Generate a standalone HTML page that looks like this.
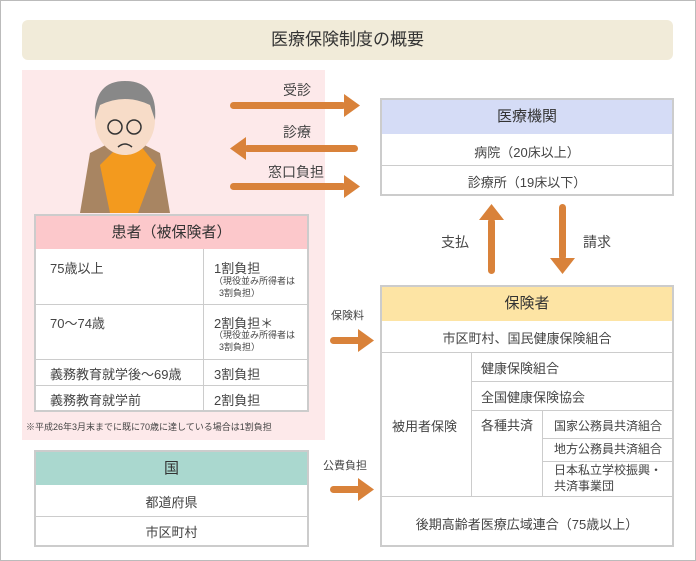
<html><head><style>
body{margin:0;width:696px;height:561px;position:relative;background:#fff;font-family:"Liberation Sans","Noto Sans CJK JP",sans-serif;color:#444;overflow:hidden}
.a{position:absolute;box-sizing:border-box}
.t{position:absolute;font-size:13px;white-space:nowrap}
.c{text-align:center}
.b{border:2px solid #ccc;background:#fff}
.l{position:absolute;background:#ccc}
</style></head><body>
<div class="a" style="left:0;top:0;width:696px;height:561px;border:1px solid #bbb"></div>
<div class="a" style="left:22px;top:20px;width:651px;height:40px;background:#f1ebd9;border-radius:6px;text-align:center;line-height:40px;font-size:17px;color:#333">医療保険制度の概要</div>
<div class="a" style="left:22px;top:70px;width:303px;height:370px;background:#fde9ea"></div>
<!-- person -->
<svg class="a" style="left:70px;top:75px" width="110" height="140">
<path d="M10 138 L20 78 L55 60 L90 78 L100 138 Z" fill="#a88562"/>
<path d="M30 90 L50 70 L70 70 L86 90 L68 138 L40 138 Z" fill="#f39a1e"/>
<ellipse cx="55" cy="45" rx="30" ry="35" fill="#f7dcc8"/>
<path d="M25 45 Q23 6 55 6 Q88 6 85 45 L80 30 Q55 18 30 30 Z" fill="#888"/>
<circle cx="45" cy="52" r="7" fill="none" stroke="#333" stroke-width="1.5"/><circle cx="64" cy="52" r="7" fill="none" stroke="#333" stroke-width="1.5"/>
<path d="M48 72 Q55 66 62 72" stroke="#333" fill="none" stroke-width="1.5"/>
</svg>
<!-- patient table -->
<div class="a b" style="left:34px;top:214px;width:275px;height:198px">
<div class="a" style="left:0;top:0;width:271px;height:33px;background:#fcc8cb;text-align:center;line-height:33px;font-size:15px;color:#333">患者（被保険者）</div>
<div class="l" style="left:0;right:0;top:88px;height:1px"></div>
<div class="l" style="left:0;right:0;top:143px;height:1px"></div>
<div class="l" style="left:0;right:0;top:169px;height:1px"></div>
<div class="l" style="left:167px;top:33px;width:1px;height:163px"></div>
<div class="t" style="left:14px;top:42px">75歳以上</div>
<div class="t" style="left:14px;top:97px">70～74歳</div>
<div class="t" style="left:14px;top:148px">義務教育就学後～69歳</div>
<div class="t" style="left:14px;top:174px">義務教育就学前</div>
<div class="t" style="left:178px;top:42px">1割負担</div>
<div class="t" style="left:178px;top:59px;font-size:9px;line-height:12px">（現役並み所得者は<br>&nbsp;&nbsp;3割負担）</div>
<div class="t" style="left:178px;top:97px">2割負担＊</div>
<div class="t" style="left:178px;top:113px;font-size:9px;line-height:12px">（現役並み所得者は<br>&nbsp;&nbsp;3割負担）</div>
<div class="t" style="left:178px;top:148px">3割負担</div>
<div class="t" style="left:178px;top:174px">2割負担</div>
</div>
<div class="t" style="left:26px;top:420px;font-size:9px">※平成26年3月末までに既に70歳に達している場合は1割負担</div>
<!-- arrows -->
<svg class="a" style="left:0;top:0" width="696" height="561">
<g fill="#d9823a">
<rect x="230" y="102" width="116" height="7" rx="3.5"/><polygon points="344,94 360,105.5 344,117"/>
<rect x="244" y="145" width="114" height="7" rx="3.5"/><polygon points="246,137 230,148.5 246,160"/>
<rect x="230" y="183" width="116" height="7" rx="3.5"/><polygon points="344,175 360,186.5 344,198"/>
<rect x="330" y="337" width="32" height="7" rx="3.5"/><polygon points="358,329 374,340.5 358,352"/>
<rect x="330" y="486" width="32" height="7" rx="3.5"/><polygon points="358,478 374,489.5 358,501"/>
<rect x="488" y="218" width="7" height="56" rx="3.5"/><polygon points="479,220 491.5,204 504,220"/>
<rect x="559" y="204" width="7" height="56" rx="3.5"/><polygon points="550,258 562.5,274 575,258"/>
</g></svg>
<div class="t" style="left:283px;top:80px;font-size:14px">受診</div>
<div class="t" style="left:283px;top:122px;font-size:14px">診療</div>
<div class="t" style="left:268px;top:162px;font-size:14px">窓口負担</div>
<div class="t" style="left:331px;top:307px;font-size:11px">保険料</div>
<div class="t" style="left:323px;top:457px;font-size:11px">公費負担</div>
<div class="t" style="left:441px;top:232px;font-size:14px">支払</div>
<div class="t" style="left:583px;top:232px;font-size:14px">請求</div>
<!-- 医療機関 -->
<div class="a b" style="left:380px;top:98px;width:294px;height:98px">
<div class="a" style="left:0;top:0;width:290px;height:34px;background:#d5dcf6;text-align:center;line-height:34px;font-size:15px;color:#333">医療機関</div>
<div class="l" style="left:0;right:0;top:65px;height:1px"></div>
<div class="t c" style="left:0;right:0;top:42px">病院（20床以上）</div>
<div class="t c" style="left:0;right:0;top:72px">診療所（19床以下）</div>
</div>
<!-- 保険者 -->
<div class="a b" style="left:380px;top:285px;width:294px;height:262px">
<div class="a" style="left:0;top:0;width:290px;height:34px;background:#fde4a4;text-align:center;line-height:34px;font-size:15px;color:#333">保険者</div>
<div class="l" style="left:0;right:0;top:65px;height:1px"></div>
<div class="l" style="left:0;right:0;top:209px;height:1px"></div>
<div class="l" style="left:89px;top:65px;width:1px;height:144px"></div>
<div class="l" style="left:89px;right:0;top:94px;height:1px"></div>
<div class="l" style="left:89px;right:0;top:123px;height:1px"></div>
<div class="l" style="left:160px;top:123px;width:1px;height:86px"></div>
<div class="l" style="left:160px;right:0;top:151px;height:1px"></div>
<div class="l" style="left:160px;right:0;top:174px;height:1px"></div>
<div class="t c" style="left:0;right:0;top:41px">市区町村、国民健康保険組合</div>
<div class="t" style="left:10px;top:129px">被用者保険</div>
<div class="t" style="left:99px;top:71px">健康保険組合</div>
<div class="t" style="left:99px;top:100px">全国健康保険協会</div>
<div class="t" style="left:99px;top:128px">各種共済</div>
<div class="t" style="left:172px;top:130px;font-size:12px">国家公務員共済組合</div>
<div class="t" style="left:172px;top:153px;font-size:12px">地方公務員共済組合</div>
<div class="t" style="left:172px;top:175px;font-size:12px;line-height:16px">日本私立学校振興・<br>共済事業団</div>
<div class="t c" style="left:0;right:0;top:227px">後期高齢者医療広域連合（75歳以上）</div>
</div>
<!-- 国 -->
<div class="a b" style="left:34px;top:450px;width:275px;height:97px">
<div class="a" style="left:0;top:0;width:271px;height:33px;background:#aad8cf;text-align:center;line-height:33px;font-size:15px;color:#333">国</div>
<div class="l" style="left:0;right:0;top:64px;height:1px"></div>
<div class="t c" style="left:0;right:0;top:40px">都道府県</div>
<div class="t c" style="left:0;right:0;top:70px">市区町村</div>
</div>
</body></html>
